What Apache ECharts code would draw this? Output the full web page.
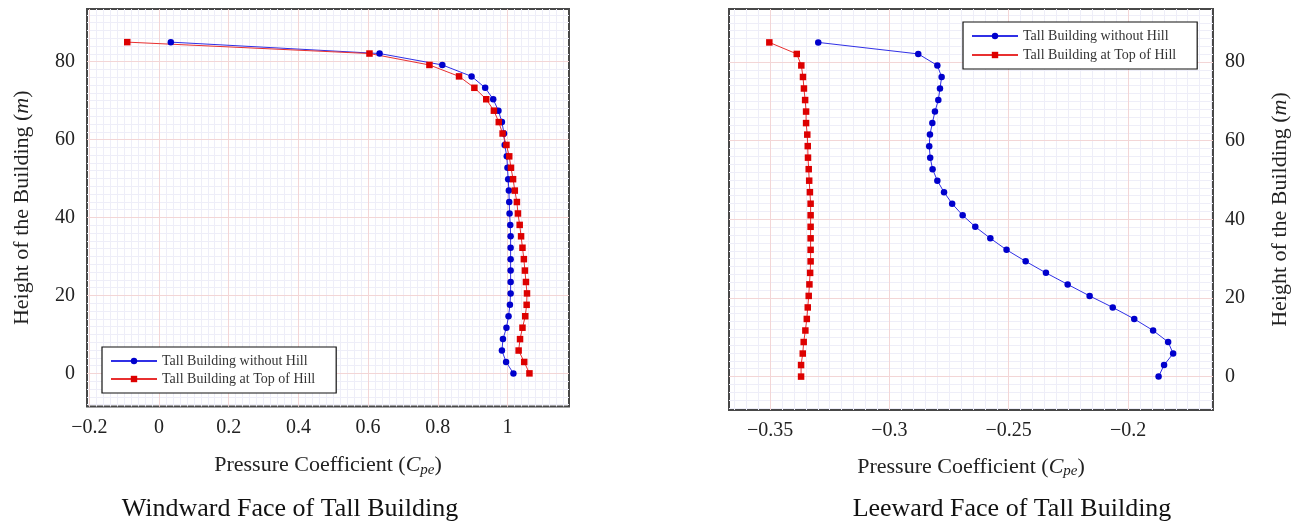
<!DOCTYPE html>
<html>
<head>
<meta charset="utf-8">
<script src="https://cdn.jsdelivr.net/npm/echarts@6/dist/echarts.min.js"></script>
<style>
html,body{margin:0;padding:0;background:#fff;}
#chart{width:1299px;height:523px;}
</style>
</head>
<body>
<div id="chart"></div>
<script>
// Heights of the measurement points (m), bottom to top
const heights = [0, 2.93, 5.86, 8.79, 11.72, 14.66, 17.59, 20.52, 23.45, 26.38, 29.31, 32.24, 35.17, 38.10, 41.03, 43.97, 46.90, 49.83, 52.76, 55.69, 58.62, 61.55, 64.48, 67.41, 70.34, 73.28, 76.21, 79.14, 82.07, 85.00];

// Windward face Cpe
const windwardNoHill = [1.017, 0.996, 0.984, 0.987, 0.997, 1.003, 1.007, 1.009, 1.009, 1.009, 1.009, 1.009, 1.009, 1.008, 1.006, 1.005, 1.004, 1.002, 1.000, 0.998, 0.992, 0.990, 0.984, 0.974, 0.959, 0.936, 0.897, 0.813, 0.633, 0.034];
const windwardHill = [1.063, 1.048, 1.032, 1.036, 1.043, 1.051, 1.055, 1.056, 1.053, 1.050, 1.047, 1.043, 1.039, 1.035, 1.030, 1.027, 1.021, 1.016, 1.010, 1.005, 0.997, 0.986, 0.975, 0.961, 0.939, 0.905, 0.861, 0.776, 0.604, -0.091];

// Leeward face Cpe
const leewardNoHill = [-0.1872, -0.1849, -0.1811, -0.1832, -0.1895, -0.1974, -0.2064, -0.2161, -0.2253, -0.2344, -0.2429, -0.2509, -0.2577, -0.2640, -0.2693, -0.2737, -0.2771, -0.2799, -0.2819, -0.2829, -0.2833, -0.2830, -0.2820, -0.2809, -0.2795, -0.2788, -0.2781, -0.2799, -0.2879, -0.3298];
const leewardHill = [-0.3370, -0.3370, -0.3363, -0.3359, -0.3352, -0.3346, -0.3342, -0.3338, -0.3335, -0.3332, -0.3330, -0.3330, -0.3330, -0.3330, -0.3330, -0.3330, -0.3333, -0.3336, -0.3338, -0.3341, -0.3342, -0.3344, -0.3349, -0.3349, -0.3353, -0.3358, -0.3362, -0.3369, -0.3388, -0.3503];

// Tick labels
const windwardXTicks = [-0.2, 0, 0.2, 0.4, 0.6, 0.8, 1];
const leewardXTicks = [-0.35, -0.3, -0.25, -0.2];
const heightTicks = [0, 20, 40, 60, 80];

const seriesNames = ['Tall Building without Hill', 'Tall Building at Top of Hill'];
const captions = ['Windward Face of Tall Building', 'Leeward Face of Tall Building'];

function steps(a, b, d) { // minor grid positions
  const out = [];
  for (let k = a; k <= b; k++) out.push(+(k * d).toFixed(4));
  return out;
}
const FONT = 'Liberation Serif';
const MAJOR = '#f3d6d6';
const MINOR = '#eeeef8';
const fmt = v => String(v).replace('-', '\u2212');

const xName = '{n|Pressure Coefficient (}{i|C}{s|pe}{n|)}';
const yName = '{n|Height of the Building (}{i|m}{n|)}';
const nameStyle = {
  color: '#222', fontFamily: FONT, fontSize: 22,
  rich: {
    n: {fontFamily: FONT, fontSize: 22, color: '#222'},
    i: {fontFamily: FONT, fontSize: 22, fontStyle: 'italic', color: '#222'},
    s: {fontFamily: FONT, fontSize: 15, fontStyle: 'italic', color: '#222', padding: [9, 0, 0, 0]}
  }
};
const labelStyle = {color: '#222', fontFamily: FONT, fontSize: 20};

function majorX(grid, min, max, ticks, gap) {
  return {
    gridIndex: grid, type: 'value', min: min, max: max, z: 1,
    axisLine: {show: false}, axisTick: {show: false, customValues: ticks},
    axisLabel: Object.assign({customValues: ticks, formatter: fmt, margin: 11}, labelStyle),
    splitLine: {show: true, lineStyle: {color: MAJOR, width: 1}},
    name: xName, nameLocation: 'middle', nameGap: gap, nameTextStyle: nameStyle
  };
}
function minorAxis(grid, min, max, vals, pos) {
  return {
    gridIndex: grid, type: 'value', min: min, max: max, z: 0, position: pos,
    axisLine: {show: false}, axisTick: {show: false, customValues: vals},
    axisLabel: {show: false},
    splitLine: {show: true, lineStyle: {color: MINOR, width: 1}}
  };
}
function majorY(grid, pos, gap) {
  return {
    gridIndex: grid, type: 'value', min: -8.5, max: 93.5, z: 1, position: pos,
    axisLine: {show: false}, axisTick: {show: false, customValues: heightTicks},
    axisLabel: Object.assign({customValues: heightTicks, formatter: fmt, margin: 12}, labelStyle),
    splitLine: {show: true, lineStyle: {color: MAJOR, width: 1}},
    name: yName, nameLocation: 'middle', nameRotate: 90, nameGap: gap, nameTextStyle: nameStyle
  };
}
function pairs(xs) { return xs.map((x, i) => [x, heights[i]]); }
function mkSeries(name, xs, grid, color, lineColor, symbol) {
  return {
    name: name, type: 'line', xAxisIndex: grid * 2, yAxisIndex: grid * 2,
    data: pairs(xs), symbol: symbol, symbolSize: 6.5,
    showSymbol: true, itemStyle: {color: color},
    lineStyle: {color: lineColor, width: 1}, z: 3, animation: false
  };
}
function legend(left, top, gap) {
  return {
    orient: 'vertical', left: left, top: top, data: seriesNames,
    itemWidth: 46, itemHeight: 8, itemGap: gap,
    padding: [7, 21, 7, 8], borderColor: '#111', borderWidth: 1.2,
    backgroundColor: '#fff', textStyle: {fontFamily: FONT, fontSize: 14, color: '#333'},
    selectedMode: false
  };
}

const chart = echarts.init(document.getElementById('chart'), null, {renderer: 'canvas'});
chart.setOption({
  animation: false,
  backgroundColor: '#fff',
  grid: [
    {left: 87, top: 9, width: 482, height: 397.5, show: true, borderColor: '#484848', borderWidth: 2, backgroundColor: '#fff'},
    {left: 729, top: 9, width: 484, height: 401, show: true, borderColor: '#484848', borderWidth: 2, backgroundColor: '#fff'}
  ],
  xAxis: [
    majorX(0, -0.2065, 1.1765, windwardXTicks, 47),
    minorAxis(0, -0.2065, 1.1765, steps(-10, 58, 0.02), 'bottom'),
    majorX(1, -0.3672, -0.1644, leewardXTicks, 45),
    minorAxis(1, -0.3672, -0.1644, steps(-73, -33, 0.005), 'bottom')
  ],
  yAxis: [
    majorY(0, 'left', 54),
    minorAxis(0, -8.5, 93.5, steps(-4, 46, 2), 'left'),
    majorY(1, 'right', 56),
    minorAxis(1, -8.5, 93.5, steps(-4, 46, 2), 'right')
  ],
  legend: [legend(102, 347, 4), legend(963, 22, 5)],
  series: [
    mkSeries(seriesNames[0], windwardNoHill, 0, '#0000cc', '#3030e6', 'circle'),
    mkSeries(seriesNames[1], windwardHill, 0, '#dd0000', '#e83030', 'rect'),
    mkSeries(seriesNames[0], leewardNoHill, 1, '#0000cc', '#3030e6', 'circle'),
    mkSeries(seriesNames[1], leewardHill, 1, '#dd0000', '#e83030', 'rect')
  ],
  graphic: [
    {type: 'text', x: 290, y: 509, style: {text: captions[0], fontFamily: FONT, fontSize: 26, fill: '#111', textAlign: 'center', textVerticalAlign: 'middle'}},
    {type: 'text', x: 1012, y: 509, style: {text: captions[1], fontFamily: FONT, fontSize: 26, fill: '#111', textAlign: 'center', textVerticalAlign: 'middle'}}
  ]
});
</script>
</body>
</html>
